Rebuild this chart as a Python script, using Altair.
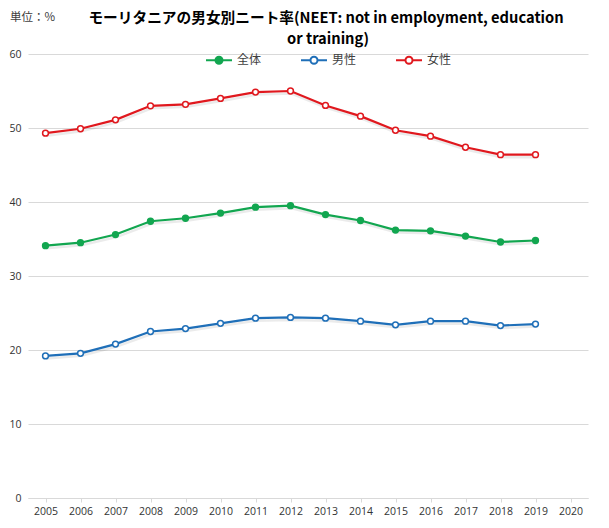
import altair as alt
import pandas as pd

years = [str(y) for y in range(2005, 2020)]
all_years = [str(y) for y in range(2005, 2021)]
series_names = ["全体", "男性", "女性"]
total = [34.1, 34.5, 35.6, 37.4, 37.8, 38.5, 39.3, 39.5, 38.3, 37.5, 36.2, 36.1, 35.4, 34.6, 34.8]
male = [19.2, 19.55, 20.8, 22.5, 22.9, 23.6, 24.3, 24.4, 24.3, 23.9, 23.4, 23.9, 23.9, 23.3, 23.5]
female = [49.3, 49.9, 51.1, 53.0, 53.2, 54.0, 54.85, 55.0, 53.05, 51.6, 49.7, 48.9, 47.4, 46.4, 46.4]
y_ticks = [0, 10, 20, 30, 40, 50, 60]
line_colors = ["#12A650", "#1F6FB8", "#E0181E"]
fill_colors = ["#12A650", "#FFFFFF", "#FFFFFF"]
title_line1 = "モーリタニアの男女別ニート率(NEET: not in employment, education"
title_line2 = "or training)"
unit_label = "単位：%"

rows = []
for name, vals in zip(series_names, [total, male, female]):
    for yr, v in zip(years, vals):
        rows.append({"year": yr, "value": v, "series": name})
df = pd.DataFrame(rows)

sym_path = "M-1,0H-0.27M0.27,0H1M-0.27,0A0.27,0.27,0,1,0,0.27,0A0.27,0.27,0,1,0,-0.27,0Z"
leg = alt.Legend(
    title=None, orient="none", direction="horizontal", legendX=177, legendY=-8,
    symbolType=sym_path, symbolSize=676, symbolStrokeWidth=2,
    labelFontSize=12, labelFont="Noto Sans CJK JP", labelColor="#404040",
    labelOffset=4, columnPadding=35, padding=0,
)

x_enc = alt.X("year:O", scale=alt.Scale(type="point", domain=all_years, padding=0.5),
              axis=alt.Axis(title=None, labelAngle=0, domainColor="#D9D9D9", tickColor="#D9D9D9",
                            tickSize=4, labelFontSize=10.5, labelFont="Open Sans", labelColor="#333333",
                            labelPadding=4, grid=False))
y_enc = alt.Y("value:Q", scale=alt.Scale(domain=[0, 60], nice=False),
              axis=alt.Axis(title=None, values=y_ticks, domain=False, ticks=False, gridColor="#D9D9D9",
                            labelFontSize=10.5, labelFont="Open Sans", labelColor="#333333", labelPadding=7))
stroke_enc = alt.Stroke("series:N", scale=alt.Scale(domain=series_names, range=line_colors), legend=leg)
fill_enc = alt.Fill("series:N", scale=alt.Scale(domain=series_names, range=fill_colors), legend=leg)

base = alt.Chart(df)
shadow = base.mark_line(strokeWidth=2.5, color="#000000", opacity=0.08, xOffset=1, yOffset=2.5).encode(
    x=x_enc, y=y_enc, detail="series:N")
lines = base.mark_line(strokeWidth=2.2).encode(x=x_enc, y=y_enc, stroke=stroke_enc, detail="series:N")
points = base.mark_point(filled=True, size=34, strokeWidth=1.5, opacity=1).encode(
    x=x_enc, y=y_enc, stroke=stroke_enc, fill=fill_enc)

unit = alt.Chart(pd.DataFrame({"t": [unit_label]})).mark_text(
    align="left", baseline="middle", fontSize=11.5, font="Noto Sans CJK JP", color="#404040"
).encode(text="t:N", x=alt.value(-18), y=alt.value(-36))

t1 = alt.Chart(pd.DataFrame({"t": [title_line1]})).mark_text(
    align="center", baseline="middle", fontSize=14.7, fontWeight="bold", font="Noto Sans CJK JP", color="#000000"
).encode(text="t:N", x=alt.value(298), y=alt.value(-35))
t2 = alt.Chart(pd.DataFrame({"t": [title_line2]})).mark_text(
    align="center", baseline="middle", fontSize=14.7, fontWeight="bold", font="Noto Sans CJK JP", color="#000000"
).encode(text="t:N", x=alt.value(300), y=alt.value(-14))

chart = alt.layer(shadow, lines, points, unit, t1, t2).properties(
    width=560, height=444,
    autosize=alt.AutoSizeParams(type="none"),
    padding={"left": 20, "top": 46, "right": 13, "bottom": 26},
).configure_view(stroke=None)

chart.save("out.html", embed_options={"renderer": "svg", "actions": False})
